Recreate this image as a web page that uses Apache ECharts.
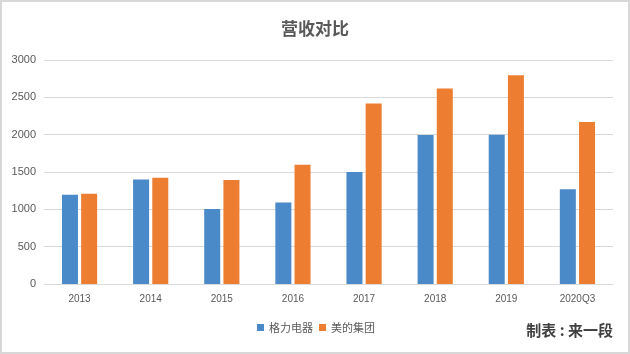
<!DOCTYPE html>
<html><head><meta charset="utf-8">
<script src="https://cdn.jsdelivr.net/npm/echarts@6/dist/echarts.min.js"></script>
<style>html,body{margin:0;padding:0;background:#fff}#c{width:630px;height:354px;box-sizing:border-box;border:2px solid #d8d8d8}</style>
</head><body><div id="c"></div>
<script>
const categories = ['2013','2014','2015','2016','2017','2018','2019','2020Q3'];
const gree = [1195,1400,1006,1090,1500,1995,2000,1268];
const midea = [1208,1423,1393,1598,2419,2618,2795,2170];
const yTicks = [0,500,1000,1500,2000,2500,3000];
const chart = echarts.init(document.getElementById('c'));
const txt = '#595959';
chart.setOption({
  animation:false,
  title:{text:'营收对比',left:'center',top:13,textStyle:{fontSize:17,fontWeight:'bold',color:'#595959',fontFamily:'Noto Sans CJK SC'}},
  legend:{bottom:14,left:250,itemWidth:7,itemHeight:7,itemGap:6,icon:'rect',textStyle:{fontSize:11,color:txt,fontFamily:'Noto Sans CJK SC'},data:['格力电器','美的集团']},
  grid:{left:42,right:15,top:58,bottom:68,containLabel:false},
  xAxis:{type:'category',data:categories,axisTick:{show:false},axisLine:{lineStyle:{color:'#d9d9d9'}},axisLabel:{fontSize:10,color:txt,margin:10,fontFamily:'Liberation Sans'}},
  yAxis:{type:'value',min:yTicks[0],max:yTicks[yTicks.length-1],interval:500,axisLine:{show:false},axisTick:{show:false},splitLine:{lineStyle:{color:'#d9d9d9'}},axisLabel:{fontSize:11,color:txt,margin:8,fontFamily:'Liberation Sans',formatter:v=>String(v)}},
  series:[
    {name:'格力电器',type:'bar',data:gree,barWidth:16,barGap:'20%',itemStyle:{color:'#4a8ac9'}},
    {name:'美的集团',type:'bar',data:midea,barWidth:16,itemStyle:{color:'#ed7d31'}}
  ],
  graphic:[
    {type:'text',right:15,bottom:14,style:{text:'制表 : 来一段',fontSize:15,fontWeight:'bold',fill:'#404040',fontFamily:'Noto Sans CJK SC'}}
  ]
});
</script></body></html>
